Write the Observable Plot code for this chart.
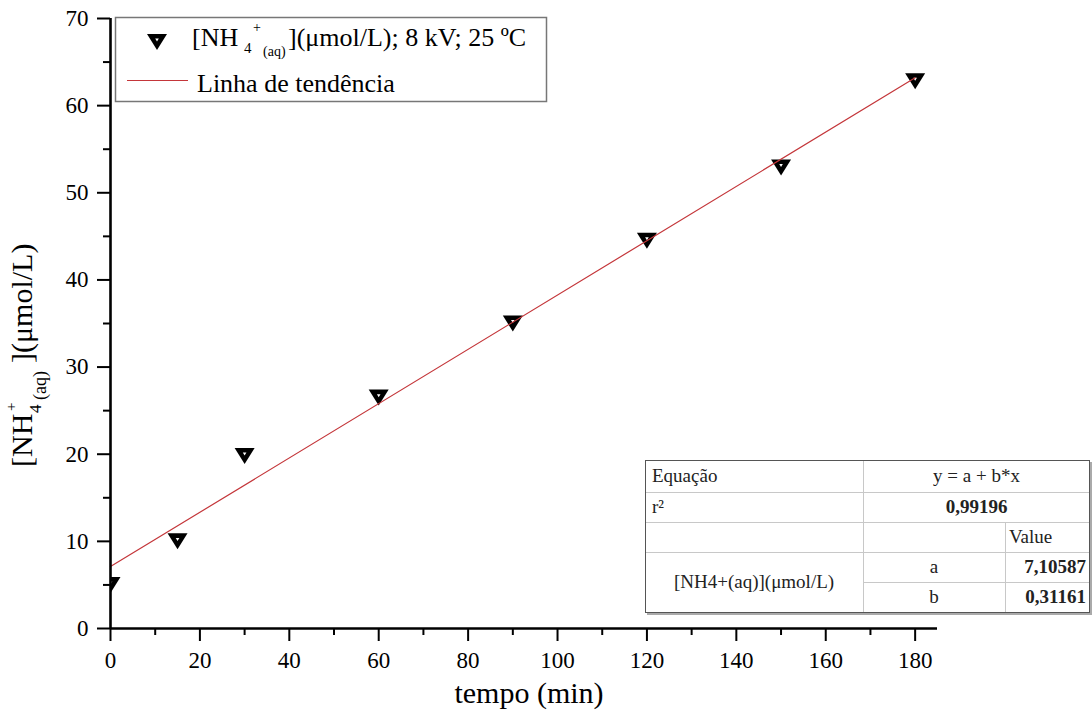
<!DOCTYPE html>
<html><head><meta charset="utf-8">
<script src="https://cdn.jsdelivr.net/npm/d3@7"></script>
<script src="https://cdn.jsdelivr.net/npm/@observablehq/plot@0.6"></script>
<style>
body{margin:0;background:#fff;}
#wrap{position:relative;width:1092px;height:724px;font-family:"Liberation Serif","Times New Roman",serif;}
#wrap svg{position:absolute;left:0;top:0;}
#wrap svg text, #wrap svg tspan{font-family:"Liberation Serif","Times New Roman",serif !important;}
</style></head><body><div id="wrap"></div>
<script>
// ---- data ----
const tempo = [0, 15, 30, 60, 90, 120, 150, 180];
const nh4 = [5.0, 10.0, 19.8, 26.5, 35.0, 44.5, 52.9, 62.8];
const trendX = [0, 180];
const trendY = [7.106, 63.196];
const xTicks = [0, 20, 40, 60, 80, 100, 120, 140, 160, 180];
const xMinor = [10, 30, 50, 70, 90, 110, 130, 150, 170];
const yTicks = [0, 10, 20, 30, 40, 50, 60, 70];
const yMinor = [5, 15, 25, 35, 45, 55, 65];
const xLabel = "tempo (min)";
const legendTrend = "Linha de tendência";
const tabEquacao = ["Equação", "y = a + b*x"];
const tabR2 = ["r²", "0,99196"];
const tabSeries = "[NH4+(aq)](μmol/L)";
const tabParams = ["a", "b"];
const tabValues = ["7,10587", "0,31161"];

const points = tempo.map((t, i) => ({t, v: nh4[i]}));
const trend = trendX.map((t, i) => ({t, v: trendY[i]}));

const triDown = {draw(ctx) { ctx.moveTo(-10, -8); ctx.lineTo(10, -8); ctx.lineTo(0, 8); ctx.closePath(); }};
const triHole = {draw(ctx) { ctx.moveTo(-1.8, -3.4); ctx.lineTo(1.8, -3.4); ctx.lineTo(0, -0.4); ctx.closePath(); }};

const plot = Plot.plot({
  width: 1092, height: 724,
  marginLeft: 110, marginRight: 155, marginTop: 18, marginBottom: 96,
  style: {fontFamily: "'Liberation Serif', 'Times New Roman', serif", fontSize: "23px", color: "black", background: "white", overflow: "visible"},
  x: {domain: [0, 185]},
  y: {domain: [0, 70]},
  marks: [
    Plot.axisX(xTicks, {tickSize: 13, tickPadding: 10, strokeWidth: 2, label: null, fontSize: 23}),
    Plot.axisX(xMinor, {tickSize: 7, strokeWidth: 2, label: null, tickFormat: () => ""}),
    Plot.axisY(yTicks, {tickSize: 13, tickPadding: 9, strokeWidth: 2, label: null, fontSize: 23}),
    Plot.axisY(yMinor, {tickSize: 7, strokeWidth: 2, label: null, tickFormat: () => ""}),
    Plot.dot(points, {x: "t", y: "v", symbol: triDown, fill: "black", stroke: "none", clip: true}),
    Plot.dot(points, {x: "t", y: "v", symbol: triHole, fill: "white", stroke: "none", clip: true}),
    Plot.line(trend, {x: "t", y: "v", stroke: "#c4363a", strokeWidth: 1.2}),
    Plot.ruleY([0], {strokeWidth: 2.6}),
    Plot.ruleX([0], {strokeWidth: 2.6})
  ]
});
document.getElementById("wrap").appendChild(plot);

// ---- overlay: legend, y label, x label, table ----
const ov = d3.select("#wrap").append("svg").attr("width", 1092).attr("height", 724).attr("fill", "black");

function t(g, x, y, s, size, opts = {}) {
  const e = g.append("text").attr("x", x).attr("y", y).attr("font-size", size).text(s);
  if (opts.anchor) e.attr("text-anchor", opts.anchor);
  if (opts.bold) e.attr("font-weight", "bold");
  if (opts.fill) e.attr("fill", opts.fill);
  return e;
}

// x label
t(ov, 529, 703, xLabel, 30, {anchor: "middle"});

// y label (rotated)
const yl = ov.append("g").attr("transform", "rotate(-90)");
t(yl, -467, 32, "[NH", 30);
t(yl, -413, 41, "4", 17);
t(yl, -411, 16, "+", 15);
t(yl, -400, 46, "(aq)", 18);
t(yl, -363, 32, "](μmol/L)", 30);

// legend
const lg = ov.append("g");
lg.append("rect").attr("x", 115.5).attr("y", 17.5).attr("width", 431).attr("height", 84)
  .attr("fill", "white").attr("stroke", "#777").attr("stroke-width", 1.5);
lg.append("path").attr("d", d3.symbol(triDown)()).attr("transform", "translate(157,42)").attr("fill", "black");
lg.append("path").attr("d", d3.symbol(triHole)()).attr("transform", "translate(157,42)").attr("fill", "white");
t(lg, 192, 46, "[NH", 26);
t(lg, 244, 53, "4", 15);
t(lg, 253, 32, "+", 14);
t(lg, 263, 56, "(aq)", 14);
t(lg, 288, 46, "](μmol/L); 8 kV; 25 ºC", 26);
lg.append("line").attr("x1", 127).attr("x2", 188).attr("y1", 80.5).attr("y2", 80.5)
  .attr("stroke", "#c4363a").attr("stroke-width", 1.2);
t(lg, 197, 92, legendTrend, 26);

// table
const tb = ov.append("g");
const L = 645, R = 1090, T = 460, B = 613;
const rows = [460, 492, 522, 552, 582, 613];
const c1 = 863, c2 = 1005;
tb.append("rect").attr("x", L + 2).attr("y", T + 2).attr("width", R - L).attr("height", B - T).attr("fill", "#aaa");
tb.append("rect").attr("x", L).attr("y", T).attr("width", R - L).attr("height", B - T).attr("fill", "white");
const grid = "#c8c8c8";
function ln(x1, y1, x2, y2) { tb.append("line").attr("x1", x1).attr("y1", y1).attr("x2", x2).attr("y2", y2).attr("stroke", grid).attr("stroke-width", 1); }
ln(L, rows[1] + .5, R, rows[1] + .5);
ln(L, rows[2] + .5, R, rows[2] + .5);
ln(L, rows[3] + .5, R, rows[3] + .5);
ln(c1, rows[4] + .5, R, rows[4] + .5);
ln(c1 + .5, T, c1 + .5, B);
ln(c2 + .5, rows[2], c2 + .5, B);
tb.append("rect").attr("x", L + .5).attr("y", T + .5).attr("width", R - L - 1).attr("height", B - T - 1)
  .attr("fill", "none").attr("stroke", "#555").attr("stroke-width", 1);
const tf = 19, tc = "#222";
t(tb, 652, 482, tabEquacao[0], tf, {fill: tc});
t(tb, (c1 + R) / 2, 482, tabEquacao[1], tf, {anchor: "middle", fill: tc});
t(tb, 652, 513, tabR2[0], tf, {fill: tc});
t(tb, (c1 + R) / 2, 513, tabR2[1], tf, {anchor: "middle", bold: true, fill: tc});
t(tb, 1009, 543, "Value", tf, {fill: tc});
t(tb, (L + c1) / 2, 588, tabSeries, tf, {anchor: "middle", fill: tc});
t(tb, (c1 + c2) / 2, 573, tabParams[0], tf, {anchor: "middle", fill: tc});
t(tb, (c1 + c2) / 2, 603, tabParams[1], tf, {anchor: "middle", fill: tc});
t(tb, R - 4, 573, tabValues[0], tf, {anchor: "end", bold: true, fill: tc});
t(tb, R - 4, 603, tabValues[1], tf, {anchor: "end", bold: true, fill: tc});
</script></body></html>
